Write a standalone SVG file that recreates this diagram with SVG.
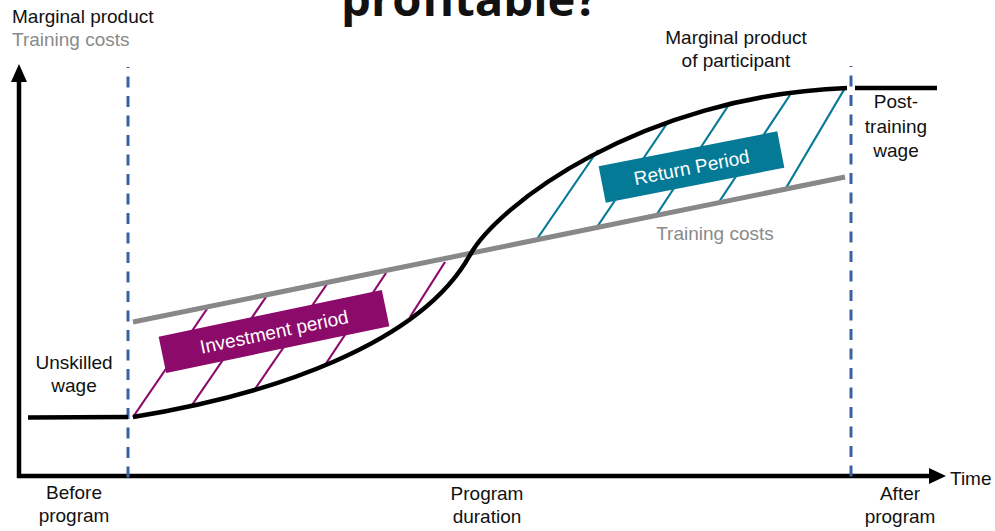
<svg xmlns="http://www.w3.org/2000/svg" width="995" height="531" viewBox="0 0 995 531">
<style>
.lbl{font-family:"Liberation Sans",Arial,sans-serif;font-size:19px;fill:#111}
.gray{fill:#8a8a8a}
.box{font-family:"Liberation Sans",Arial,sans-serif;font-size:19px;fill:#fff}
.ax{stroke:#000;stroke-width:4.5;fill:none}
.dash{stroke:#3a62a0;stroke-width:3;stroke-dasharray:11 8.5;stroke-dashoffset:10;fill:none}
.hp{stroke:#8b0a6a;stroke-width:2.2}
.ht{stroke:#057a96;stroke-width:2.2}
</style>
<rect width="995" height="531" fill="#fff"/>
<text x="341" y="16" font-family="'Open Sans',sans-serif" font-weight="bold" font-size="46" textLength="257" lengthAdjust="spacingAndGlyphs" fill="#111">profitable?</text>
<g id="axes">
<line class="ax" x1="19" y1="478" x2="19" y2="78"/>
<polygon points="19,64 11,82 27,82" fill="#000"/>
<line class="ax" x1="17" y1="476" x2="932" y2="476"/>
<polygon points="946,476 929,468 929,484" fill="#000"/>
<text class="lbl" x="12" y="23">Marginal product</text>
<text class="lbl gray" x="12" y="46">Training costs</text>
<text class="lbl" x="950" y="485">Time</text>
</g>
<g id="dividers">
<line class="dash" x1="128" y1="67" x2="128" y2="478"/>
<line class="dash" x1="851" y1="66" x2="851" y2="478"/>
</g>
<g id="hatching">
<line class="hp" x1="133" y1="417" x2="207" y2="309"/>
<line class="hp" x1="192" y1="405" x2="266" y2="297"/>
<line class="hp" x1="255" y1="389" x2="327" y2="284"/>
<line class="hp" x1="325" y1="365" x2="386" y2="273"/>
<line class="hp" x1="410" y1="317" x2="445" y2="262"/>
<line class="ht" x1="537" y1="239" x2="598" y2="150"/>
<line class="ht" x1="597" y1="227" x2="668" y2="122"/>
<line class="ht" x1="657" y1="214" x2="728" y2="106"/>
<line class="ht" x1="719" y1="202" x2="790" y2="95"/>
<line class="ht" x1="786" y1="188" x2="845" y2="88"/>
</g>
<g id="training-costs">
<line x1="133" y1="322" x2="845" y2="177" stroke="#888" stroke-width="5"/>
<text class="lbl gray" x="715" y="240" text-anchor="middle">Training costs</text>
</g>
<g id="marginal-product">
<line class="ax" x1="28" y1="417.5" x2="128" y2="417"/>
<path class="ax" d="M133,417 C270,395 420,345 470,255 C497,206 640,96 847,88"/>
<line class="ax" x1="855" y1="88" x2="937" y2="88"/>
<text class="lbl" x="736" y="44" text-anchor="middle">Marginal product</text>
<text class="lbl" x="736" y="67" text-anchor="middle">of participant</text>
</g>
<g id="unskilled-wage">
<text class="lbl" x="74" y="369" text-anchor="middle">Unskilled</text>
<text class="lbl" x="74" y="392" text-anchor="middle">wage</text>
</g>
<g id="post-training-wage">
<text class="lbl" x="896" y="108" text-anchor="middle">Post-</text>
<text class="lbl" x="896" y="133" text-anchor="middle">training</text>
<text class="lbl" x="896" y="157" text-anchor="middle">wage</text>
</g>
<g id="investment-period" transform="translate(274,331.5) rotate(-11.8)">
<rect x="-114" y="-18.5" width="228" height="37" fill="#8b0a6a"/>
<text class="box" x="0" y="7" text-anchor="middle">Investment period</text>
</g>
<g id="return-period" transform="translate(691.5,167) rotate(-11.1)">
<rect x="-91" y="-18.5" width="182" height="37" fill="#057a96"/>
<text class="box" x="0" y="7" text-anchor="middle">Return Period</text>
</g>
<g id="time-labels">
<text class="lbl" x="74" y="499" text-anchor="middle">Before</text>
<text class="lbl" x="74" y="522" text-anchor="middle">program</text>
<text class="lbl" x="487" y="500" text-anchor="middle">Program</text>
<text class="lbl" x="487" y="523" text-anchor="middle">duration</text>
<text class="lbl" x="900" y="500" text-anchor="middle">After</text>
<text class="lbl" x="900" y="523" text-anchor="middle">program</text>
</g>
</svg>
